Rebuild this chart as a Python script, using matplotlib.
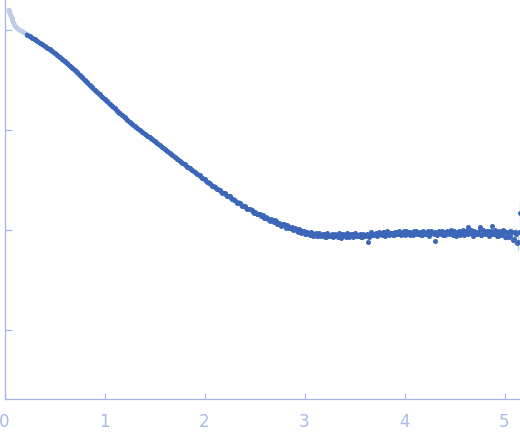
import numpy as np
import matplotlib
matplotlib.use("Agg")
import matplotlib.pyplot as plt

# excluded low-q points (drawn pale)
q_excl = [0.040, 0.048, 0.055, 0.062, 0.070, 0.078, 0.085, 0.093, 0.100,
          0.112, 0.125, 0.137, 0.150, 0.162, 0.175, 0.187, 0.200]
logI_excl = [0.200, 0.178, 0.160, 0.140, 0.120, 0.099, 0.080, 0.058, 0.040,
             0.029, 0.020, 0.010, 0.000, -0.008, -0.015, -0.022, -0.030]

# smooth part of the curve
q_low = [0.225, 0.250, 0.275, 0.300, 0.325, 0.350, 0.375, 0.400, 0.425, 0.450,
         0.475, 0.500, 0.525, 0.550, 0.575, 0.600, 0.625, 0.650, 0.675, 0.700,
         0.725, 0.750, 0.775, 0.800, 0.825, 0.850, 0.875, 0.900, 0.925, 0.950,
         0.975, 1.000, 1.025, 1.050, 1.075, 1.100, 1.125, 1.150, 1.175, 1.200,
         1.225, 1.250, 1.275, 1.300, 1.325, 1.350, 1.375, 1.400, 1.425, 1.450,
         1.475, 1.500, 1.525, 1.550, 1.575, 1.600, 1.625, 1.650, 1.675, 1.700,
         1.725, 1.750, 1.775, 1.800, 1.825, 1.850, 1.875, 1.900, 1.925, 1.950,
         1.975, 2.000, 2.025, 2.050, 2.075, 2.100, 2.125, 2.150, 2.175, 2.200,
         2.225, 2.250, 2.275, 2.300, 2.325, 2.350, 2.375, 2.400, 2.425, 2.450]
logI_low = [-0.048, -0.064, -0.080, -0.095, -0.112, -0.128, -0.145, -0.162, -0.178, -0.195,
            -0.212, -0.231, -0.252, -0.273, -0.293, -0.314, -0.335, -0.356, -0.376, -0.400,
            -0.425, -0.450, -0.475, -0.500, -0.525, -0.550, -0.575, -0.599, -0.622, -0.645,
            -0.668, -0.691, -0.714, -0.737, -0.760, -0.783, -0.806, -0.828, -0.851, -0.874,
            -0.897, -0.920, -0.943, -0.963, -0.982, -1.000, -1.019, -1.038, -1.057, -1.075,
            -1.094, -1.113, -1.133, -1.152, -1.171, -1.191, -1.210, -1.230, -1.249, -1.268,
            -1.288, -1.307, -1.327, -1.344, -1.367, -1.381, -1.405, -1.418, -1.442, -1.455,
            -1.481, -1.493, -1.520, -1.529, -1.556, -1.566, -1.594, -1.599, -1.628, -1.633,
            -1.660, -1.664, -1.693, -1.697, -1.726, -1.728, -1.758, -1.762, -1.791, -1.795]

# noisy plateau, first set
q_high = [2.47, 2.49, 2.51, 2.53, 2.55, 2.57, 2.59, 2.61, 2.63, 2.65,
          2.67, 2.69, 2.71, 2.73, 2.75, 2.77, 2.79, 2.81, 2.83, 2.85,
          2.87, 2.89, 2.91, 2.93, 2.95, 2.97, 2.99, 3.01, 3.03, 3.05,
          3.07, 3.09, 3.11, 3.13, 3.15, 3.17, 3.19, 3.21, 3.23, 3.25,
          3.27, 3.29, 3.31, 3.33, 3.35, 3.37, 3.39, 3.41, 3.43, 3.45,
          3.47, 3.49, 3.51, 3.53, 3.55, 3.57, 3.59, 3.61, 3.63, 3.65,
          3.67, 3.69, 3.71, 3.73, 3.75, 3.77, 3.79, 3.81, 3.83, 3.85,
          3.87, 3.89, 3.91, 3.93, 3.95, 3.97, 3.99, 4.01, 4.03, 4.05,
          4.07, 4.09, 4.11, 4.13, 4.15, 4.17, 4.19, 4.21, 4.23, 4.25,
          4.27, 4.29, 4.31, 4.33, 4.35, 4.37, 4.39, 4.41, 4.43, 4.45,
          4.47, 4.49, 4.51, 4.53, 4.55, 4.57, 4.59, 4.61, 4.63, 4.65,
          4.67, 4.69, 4.71, 4.73, 4.75, 4.77, 4.79, 4.81, 4.83, 4.85,
          4.87, 4.89, 4.91, 4.93, 4.95, 4.97, 4.99, 5.01, 5.03, 5.05,
          5.07, 5.09, 5.11, 5.13, 5.15]
logI_high = [-1.805, -1.829, -1.828, -1.844, -1.840, -1.862, -1.877, -1.871, -1.886, -1.909,
             -1.900, -1.917, -1.912, -1.938, -1.936, -1.947, -1.943, -1.976, -1.965, -1.984,
             -1.972, -1.995, -1.995, -2.017, -2.004, -2.020, -2.009, -2.038, -2.031, -2.052,
             -2.033, -2.048, -2.033, -2.059, -2.046, -2.054, -2.037, -2.070, -2.046, -2.061,
             -2.041, -2.056, -2.050, -2.067, -2.039, -2.059, -2.048, -2.072, -2.043, -2.055,
             -2.036, -2.064, -2.051, -2.060, -2.040, -2.068, -2.046, -2.053, -2.118, -2.056,
             -2.040, -2.052, -2.031, -2.046, -2.037, -2.052, -2.025, -2.039, -2.018, -2.044,
             -2.028, -2.050, -2.017, -2.036, -2.029, -2.043, -2.011, -2.038, -2.023, -2.046,
             -2.027, -2.032, -2.015, -2.042, -2.021, -2.049, -2.026, -2.036, -2.014, -2.040,
             -2.028, -2.044, -2.110, -2.019, -2.034, -2.012, -2.047, -2.024, -2.031, -2.017,
             -2.041, -2.010, -2.037, -2.026, -2.050, -2.020, -2.033, -2.015, -1.972, -2.023,
             -2.039, -2.008, -2.036, -2.027, -1.970, -2.048, -2.018, -2.032, -2.014, -2.044,
             -1.962, -2.040, -2.024, -2.056, -2.019, -2.040, -2.015, -2.066, -2.030, -2.065,
             -2.023, -2.092, -2.040, -2.118, -1.830]

# noisy plateau, in-between set
q_high2 = [2.48, 2.50, 2.52, 2.54, 2.56, 2.58, 2.60, 2.62, 2.64, 2.66,
           2.68, 2.70, 2.72, 2.74, 2.76, 2.78, 2.80, 2.82, 2.84, 2.86,
           2.88, 2.90, 2.92, 2.94, 2.96, 2.98, 3.00, 3.02, 3.04, 3.06,
           3.08, 3.10, 3.12, 3.14, 3.16, 3.18, 3.20, 3.22, 3.24, 3.26,
           3.28, 3.30, 3.32, 3.34, 3.36, 3.38, 3.40, 3.42, 3.44, 3.46,
           3.48, 3.50, 3.52, 3.54, 3.56, 3.58, 3.60, 3.62, 3.64, 3.66,
           3.68, 3.70, 3.72, 3.74, 3.76, 3.78, 3.80, 3.82, 3.84, 3.86,
           3.88, 3.90, 3.92, 3.94, 3.96, 3.98, 4.00, 4.02, 4.04, 4.06,
           4.08, 4.10, 4.12, 4.14, 4.16, 4.18, 4.20, 4.22, 4.24, 4.26,
           4.28, 4.30, 4.32, 4.34, 4.36, 4.38, 4.40, 4.42, 4.44, 4.46,
           4.48, 4.50, 4.52, 4.54, 4.56, 4.58, 4.60, 4.62, 4.64, 4.66,
           4.68, 4.70, 4.72, 4.74, 4.76, 4.78, 4.80, 4.82, 4.84, 4.86,
           4.88, 4.90, 4.92, 4.94, 4.96, 4.98, 5.00, 5.02, 5.04, 5.06,
           5.08, 5.10, 5.12, 5.14]
logI_high2 = [-1.821, -1.817, -1.845, -1.841, -1.858, -1.854, -1.881, -1.881, -1.904, -1.892,
              -1.911, -1.905, -1.937, -1.929, -1.956, -1.940, -1.961, -1.951, -1.983, -1.977,
              -2.004, -1.983, -2.008, -1.995, -2.028, -2.015, -2.043, -2.019, -2.038, -2.023,
              -2.061, -2.037, -2.059, -2.031, -2.056, -2.042, -2.074, -2.033, -2.065, -2.048,
              -2.070, -2.036, -2.059, -2.031, -2.076, -2.040, -2.054, -2.034, -2.068, -2.045,
              -2.073, -2.032, -2.062, -2.049, -2.071, -2.035, -2.058, -2.035, -2.066, -2.025,
              -2.054, -2.036, -2.062, -2.022, -2.044, -2.024, -2.055, -2.014, -2.047, -2.026,
              -2.053, -2.016, -2.039, -2.009, -2.047, -2.025, -2.053, -2.013, -2.036, -2.018,
              -2.050, -2.007, -2.044, -2.028, -2.052, -2.011, -2.040, -2.021, -2.055, -2.009,
              -2.034, -2.016, -2.049, -2.006, -2.043, -2.024, -2.054, -2.012, -2.038, -2.003,
              -2.047, -2.019, -2.056, -2.010, -2.035, -2.005, -2.051, -2.017, -2.045, -2.004,
              -2.057, -2.020, -2.042, -2.008, -2.049, -2.002, -2.038, -2.013, -2.058, -2.015,
              -2.043, -2.005, -2.062, -2.013, -2.052, -2.005, -2.071, -2.016, -2.073, -2.012,
              -2.095, -2.024, -2.127, -2.019]

# log10 error on the last points
q_err = [4.93, 4.95, 4.97, 4.99, 5.01, 5.03, 5.05, 5.07, 5.09, 5.11, 5.13, 5.15]
logI_err = [-2.056, -2.019, -2.040, -2.015, -2.066, -2.030, -2.065, -2.023, -2.092, -2.040, -2.118, -1.830]
err = [0.02, 0.02, 0.025, 0.025, 0.03, 0.03, 0.035, 0.04, 0.045, 0.06, 0.08, 0.10]

dark = "#3c66b8"
pale = "#bccbea"
axis_col = "#a2b5e2"

fig = plt.figure(figsize=(5.2, 4.37), dpi=100)
ax = fig.add_axes([4.5 / 520, 38 / 437, 515.5 / 520, 399 / 437])

ie = 10 ** np.array(logI_err)
e = np.array(err)
ax.errorbar(q_err, ie, yerr=[ie - ie * 10 ** -e, ie * 10 ** e - ie],
            fmt="none", ecolor=pale, elinewidth=1, zorder=1)

I_excl = 10 ** np.array(logI_excl)
ax.plot(q_excl, I_excl, color=pale, lw=2.8, solid_capstyle="round", zorder=2)
ax.scatter(q_excl, I_excl, s=12, color=pale, lw=0, zorder=2)

# dense points in the smooth part merge into a band
I_low = 10 ** np.array(logI_low)
ax.plot(q_low, I_low, color=dark, lw=3.3, solid_capstyle="round", zorder=3)

q_all = q_low + q_high + q_high2
I_all = 10 ** np.array(logI_low + logI_high + logI_high2)
ax.scatter(q_all, I_all, s=13, color=dark, lw=0, zorder=3)

ax.set_yscale("log")
ax.set_xlim(0, 5.155)
ax.set_ylim(10 ** -3.69, 10 ** 0.30)
ax.set_xticks([0, 1, 2, 3, 4, 5])
ax.set_yticks([1e-3, 1e-2, 1e-1, 1e0])
ax.yaxis.set_minor_locator(matplotlib.ticker.NullLocator())
ax.set_yticklabels([])

for s in ["top", "right"]:
    ax.spines[s].set_visible(False)
for s in ["left", "bottom"]:
    ax.spines[s].set_color(axis_col)
    ax.spines[s].set_linewidth(0.9)

ax.tick_params(axis="x", direction="in", length=4.3, width=0.8, color=axis_col,
               labelcolor="#a9bbe4", labelsize=12, pad=10)
ax.tick_params(axis="y", direction="in", length=5, width=0.8, color=axis_col)

fig.savefig("out.png", dpi=100)
